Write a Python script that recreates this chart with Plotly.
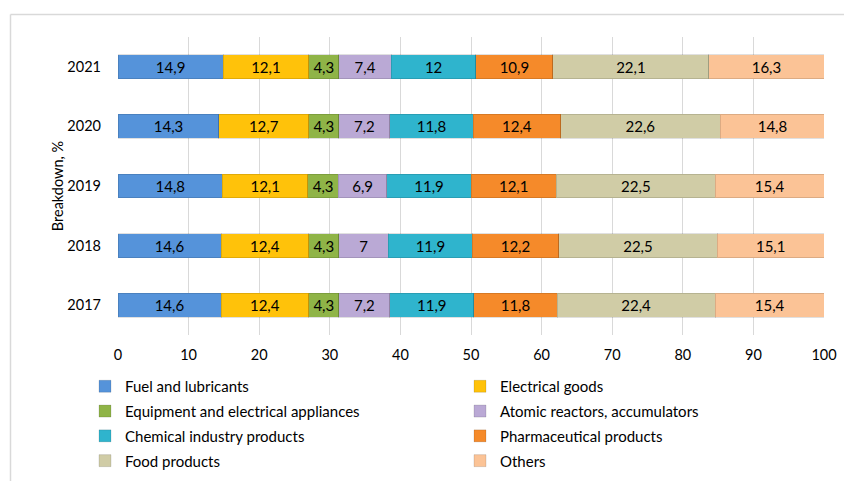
import plotly.graph_objects as go

years = ["2017", "2018", "2019", "2020", "2021"]
fuel = [14.6, 14.6, 14.8, 14.3, 14.9]
electrical = [12.4, 12.4, 12.1, 12.7, 12.1]
equipment = [4.3, 4.3, 4.3, 4.3, 4.3]
atomic = [7.2, 7.0, 6.9, 7.2, 7.4]
chemical = [11.9, 11.9, 11.9, 11.8, 12.0]
pharma = [11.8, 12.2, 12.1, 12.4, 10.9]
food = [22.4, 22.5, 22.5, 22.6, 22.1]
others = [15.4, 15.1, 15.4, 14.8, 16.3]

series = [
    ("Fuel and lubricants", fuel, "#5593DA", "legend"),
    ("Electrical goods", electrical, "#FFC20A", "legend2"),
    ("Equipment and electrical appliances", equipment, "#8FB447", "legend"),
    ("Atomic reactors, accumulators", atomic, "#BAA9D5", "legend2"),
    ("Chemical industry products", chemical, "#2FB4CD", "legend"),
    ("Pharmaceutical products", pharma, "#F58A2A", "legend2"),
    ("Food products", food, "#D0CCA6", "legend"),
    ("Others", others, "#FBC396", "legend2"),
]

def fmt(v):
    s = f"{v:g}"
    return s.replace(".", ",")

FONT = "Lato"

fig = go.Figure()
for name, vals, col, lg in series:
    fig.add_trace(go.Bar(
        name=name, y=years, x=vals, orientation="h",
        marker=dict(color=col, line=dict(color="rgba(0,0,0,0.12)", width=1)),
        text=[fmt(v) for v in vals], textposition="inside",
        insidetextanchor="middle", textangle=0, constraintext="none",
        textfont=dict(color="black", size=15, family=FONT),
        hoverinfo="skip", legend=lg, legendgroup=name,
    ))

L, R, T, B = 118, 20, 37, 146
W, H = 844, 481
pw, ph = W - L - R, H - T - B

def px_x(x):
    return (x - L) / pw

def px_y(y):
    return (H - B - y) / ph

leg_common = dict(orientation="v", xanchor="left", yanchor="top",
                  font=dict(size=15, family=FONT), itemwidth=30,
                  tracegroupgap=2.3, bgcolor="rgba(0,0,0,0)", borderwidth=0)

fig.update_layout(
    width=W, height=H,
    margin=dict(l=L, r=R, t=T, b=B, pad=0, autoexpand=False),
    barmode="stack", bargap=0.6,
    plot_bgcolor="white", paper_bgcolor="white",
    font=dict(family=FONT, size=14.5, color="black"),
    xaxis=dict(range=[0, 100], dtick=10, showgrid=True, gridcolor="#D9D9D9",
               gridwidth=1, zeroline=False, showline=False, ticks="",
               tickfont=dict(size=14.5), ticklabelstandoff=9, fixedrange=True,
               automargin=False),
    yaxis=dict(categoryorder="array", categoryarray=years, showgrid=False,
               showline=False, ticks="", tickfont=dict(size=14.5),
               ticklabelstandoff=16, automargin=False,
               title=dict(text="Breakdown, %", font=dict(size=14.5), standoff=0),
               fixedrange=True),
    legend=dict(x=px_x(85), y=px_y(370), **leg_common),
    legend2=dict(x=px_x(460), y=px_y(370), **leg_common),
    showlegend=True,
    shapes=[
        dict(type="line", xref="paper", yref="paper",
             x0=px_x(10.5), x1=px_x(W), y0=px_y(14.5), y1=px_y(14.5),
             line=dict(color="#D9D9D9", width=1.5)),
        dict(type="line", xref="paper", yref="paper",
             x0=px_x(10.5), x1=px_x(10.5), y0=px_y(14.5), y1=px_y(H),
             line=dict(color="#D9D9D9", width=1.5)),
    ],
)

fig.write_html("out.html")
